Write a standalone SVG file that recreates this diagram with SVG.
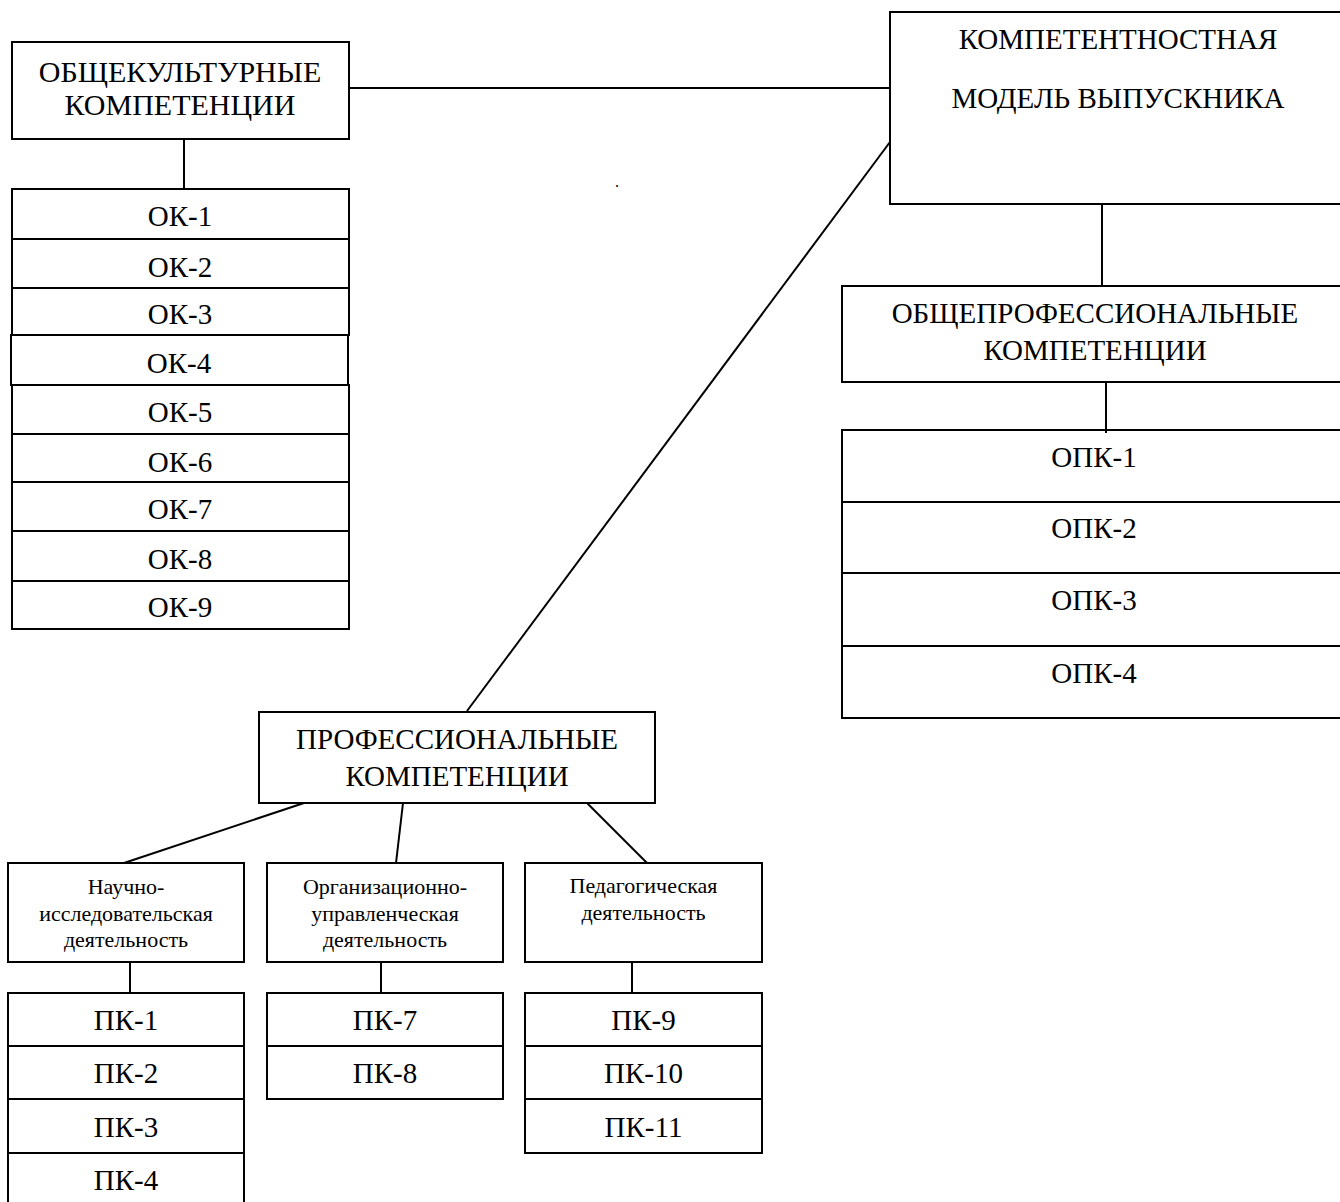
<svg xmlns="http://www.w3.org/2000/svg" width="1340" height="1202" viewBox="0 0 1340 1202">
<style>
.b{fill:none;stroke:#000;stroke-width:2}
.c{stroke:#000;stroke-width:2;fill:none}
.t{font-family:"Liberation Serif","Times New Roman",serif;font-size:29px;text-anchor:middle;fill:#000}
.s{font-size:22px}
</style>
<rect width="1340" height="1202" fill="#fff"/>
<g id="connectors">
<line class="c" x1="349" y1="88" x2="890" y2="88"/>
<line class="c" x1="184" y1="139" x2="184" y2="189"/>
<line class="c" x1="890" y1="142" x2="467" y2="711"/>
<line class="c" x1="1102" y1="204" x2="1102" y2="286"/>
<line class="c" x1="1106" y1="382" x2="1106" y2="433"/>
<line class="c" x1="304" y1="803" x2="124" y2="863"/>
<line class="c" x1="403" y1="803" x2="396" y2="863"/>
<line class="c" x1="587" y1="803" x2="647" y2="863"/>
<line class="c" x1="130" y1="962" x2="130" y2="993"/>
<line class="c" x1="381" y1="962" x2="381" y2="993"/>
<line class="c" x1="632" y1="962" x2="632" y2="993"/>
</g>
<g id="model">
<rect class="b" x="890" y="12" width="456" height="192"/>
<text class="t" x="1118" y="49">КОМПЕТЕНТНОСТНАЯ</text>
<text class="t" x="1118" y="108">МОДЕЛЬ ВЫПУСКНИКА</text>
</g>
<g id="ok">
<rect class="b" x="12" y="42" width="337" height="97"/>
<text class="t" x="180" y="82" style="font-size:30px">ОБЩЕКУЛЬТУРНЫЕ</text>
<text class="t" x="180" y="115" style="font-size:30px">КОМПЕТЕНЦИИ</text>
</g>
<g id="ok-list">
<rect class="b" x="12" y="189" width="337" height="50"/><text class="t" x="180" y="226">ОК-1</text>
<rect class="b" x="12" y="239" width="337" height="49"/><text class="t" x="180" y="277">ОК-2</text>
<rect class="b" x="12" y="288" width="337" height="47"/><text class="t" x="180" y="324">ОК-3</text>
<rect class="b" x="11" y="335" width="337" height="50"/><text class="t" x="179" y="373">ОК-4</text>
<rect class="b" x="12" y="385" width="337" height="49"/><text class="t" x="180" y="422">ОК-5</text>
<rect class="b" x="12" y="434" width="337" height="48"/><text class="t" x="180" y="472">ОК-6</text>
<rect class="b" x="12" y="482" width="337" height="49"/><text class="t" x="180" y="519">ОК-7</text>
<rect class="b" x="12" y="531" width="337" height="50"/><text class="t" x="180" y="569">ОК-8</text>
<rect class="b" x="12" y="581" width="337" height="48"/><text class="t" x="180" y="617">ОК-9</text>
</g>
<g id="opk">
<rect class="b" x="842" y="286" width="505" height="96"/>
<text class="t" x="1095" y="323">ОБЩЕПРОФЕССИОНАЛЬНЫЕ</text>
<text class="t" x="1095" y="360">КОМПЕТЕНЦИИ</text>
</g>
<g id="opk-list">
<rect class="b" x="842" y="430" width="505" height="72"/><text class="t" x="1094" y="467">ОПК-1</text>
<rect class="b" x="842" y="502" width="505" height="71"/><text class="t" x="1094" y="538">ОПК-2</text>
<rect class="b" x="842" y="573" width="505" height="73"/><text class="t" x="1094" y="610">ОПК-3</text>
<rect class="b" x="842" y="646" width="505" height="72"/><text class="t" x="1094" y="683">ОПК-4</text>
</g>
<g id="pk">
<rect class="b" x="259" y="712" width="396" height="91"/>
<text class="t" x="457" y="749">ПРОФЕССИОНАЛЬНЫЕ</text>
<text class="t" x="457" y="786">КОМПЕТЕНЦИИ</text>
</g>
<g id="research">
<rect class="b" x="8" y="863" width="236" height="99"/>
<text class="t s" x="126" y="894">Научно-</text>
<text class="t s" x="126" y="921">исследовательская</text>
<text class="t s" x="126" y="947">деятельность</text>
</g>
<g id="management">
<rect class="b" x="267" y="863" width="236" height="99"/>
<text class="t s" x="385" y="894">Организационно-</text>
<text class="t s" x="385" y="921">управленческая</text>
<text class="t s" x="385" y="947">деятельность</text>
</g>
<g id="teaching">
<rect class="b" x="525" y="863" width="237" height="99"/>
<text class="t s" x="643.5" y="893">Педагогическая</text>
<text class="t s" x="643.5" y="920">деятельность</text>
</g>
<g id="pk-research">
<rect class="b" x="8" y="993" width="236" height="53"/><text class="t" x="126" y="1030">ПК-1</text>
<rect class="b" x="8" y="1046" width="236" height="53"/><text class="t" x="126" y="1083">ПК-2</text>
<rect class="b" x="8" y="1099" width="236" height="54"/><text class="t" x="126" y="1137">ПК-3</text>
<rect class="b" x="8" y="1153" width="236" height="53"/><text class="t" x="126" y="1190">ПК-4</text>
</g>
<g id="pk-management">
<rect class="b" x="267" y="993" width="236" height="53"/><text class="t" x="385" y="1030">ПК-7</text>
<rect class="b" x="267" y="1046" width="236" height="53"/><text class="t" x="385" y="1083">ПК-8</text>
</g>
<g id="pk-teaching">
<rect class="b" x="525" y="993" width="237" height="53"/><text class="t" x="643.5" y="1030">ПК-9</text>
<rect class="b" x="525" y="1046" width="237" height="53"/><text class="t" x="643.5" y="1083">ПК-10</text>
<rect class="b" x="525" y="1099" width="237" height="54"/><text class="t" x="643.5" y="1137">ПК-11</text>
</g>
<text class="t" x="617" y="187" style="font-size:16px">.</text>
</svg>
